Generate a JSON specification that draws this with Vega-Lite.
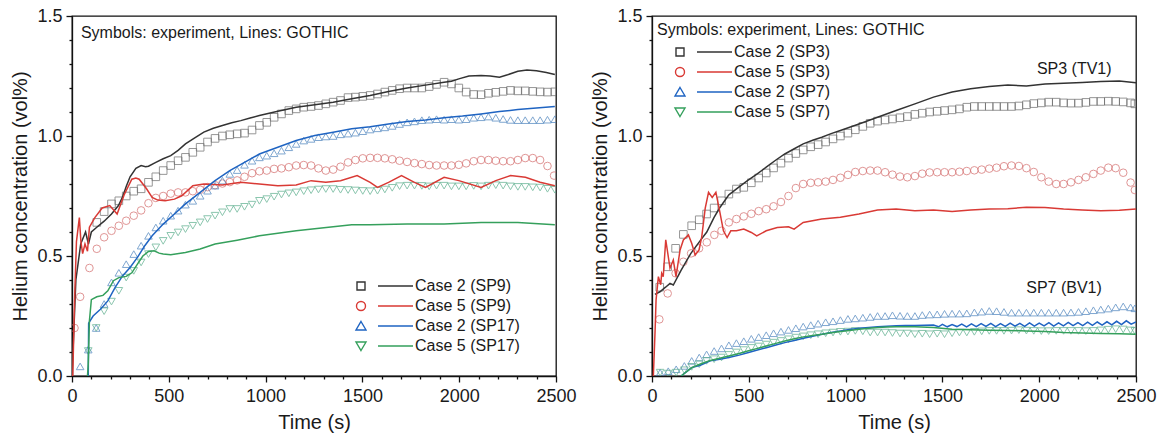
{
"$schema": "https://vega.github.io/schema/vega-lite/v6.json",
"background": "white",
"padding": {"left": 10, "top": 6, "right": 5, "bottom": 5},
"config": {
  "view": {"stroke": "#111", "strokeWidth": 1.3},
  "axis": {"grid": false, "domainColor": "#111", "domainWidth": 1.3, "tickColor": "#111", "tickWidth": 1.3,
    "labelFont": "Liberation Sans", "labelFontSize": 18, "labelColor": "#1a1a1a",
    "titleFont": "Liberation Sans", "titleFontSize": 20, "titleFontWeight": "normal", "titleColor": "#1a1a1a",
    "labelFlush": false, "labelOverlap": false},
  "axisX": {"labelPadding": 5, "titlePadding": 7},
  "axisY": {"labelPadding": 4, "titlePadding": 6},
  "text": {"font": "Liberation Sans", "fontSize": 16, "color": "#1a1a1a"}
},
"data": {"values": [
{"p":"L","k":"e","s":"Case 2 (SP9)","t":128,"c":0.64},{"p":"L","k":"e","s":"Case 2 (SP9)","t":166,"c":0.685},{"p":"L","k":"e","s":"Case 2 (SP9)","t":204,"c":0.717},{"p":"L","k":"e","s":"Case 2 (SP9)","t":242,"c":0.73},{"p":"L","k":"e","s":"Case 2 (SP9)","t":280,"c":0.75},{"p":"L","k":"e","s":"Case 2 (SP9)","t":319,"c":0.77},{"p":"L","k":"e","s":"Case 2 (SP9)","t":357,"c":0.78},{"p":"L","k":"e","s":"Case 2 (SP9)","t":395,"c":0.807},{"p":"L","k":"e","s":"Case 2 (SP9)","t":433,"c":0.83},{"p":"L","k":"e","s":"Case 2 (SP9)","t":471,"c":0.856},{"p":"L","k":"e","s":"Case 2 (SP9)","t":510,"c":0.877},{"p":"L","k":"e","s":"Case 2 (SP9)","t":548,"c":0.897},{"p":"L","k":"e","s":"Case 2 (SP9)","t":586,"c":0.911},{"p":"L","k":"e","s":"Case 2 (SP9)","t":624,"c":0.932},{"p":"L","k":"e","s":"Case 2 (SP9)","t":662,"c":0.953},{"p":"L","k":"e","s":"Case 2 (SP9)","t":700,"c":0.975},{"p":"L","k":"e","s":"Case 2 (SP9)","t":739,"c":0.99},{"p":"L","k":"e","s":"Case 2 (SP9)","t":777,"c":1.0},{"p":"L","k":"e","s":"Case 2 (SP9)","t":815,"c":1.005},{"p":"L","k":"e","s":"Case 2 (SP9)","t":853,"c":1.009},{"p":"L","k":"e","s":"Case 2 (SP9)","t":891,"c":1.012},{"p":"L","k":"e","s":"Case 2 (SP9)","t":930,"c":1.025},{"p":"L","k":"e","s":"Case 2 (SP9)","t":968,"c":1.044},{"p":"L","k":"e","s":"Case 2 (SP9)","t":1006,"c":1.057},{"p":"L","k":"e","s":"Case 2 (SP9)","t":1044,"c":1.078},{"p":"L","k":"e","s":"Case 2 (SP9)","t":1082,"c":1.092},{"p":"L","k":"e","s":"Case 2 (SP9)","t":1120,"c":1.106},{"p":"L","k":"e","s":"Case 2 (SP9)","t":1158,"c":1.113},{"p":"L","k":"e","s":"Case 2 (SP9)","t":1197,"c":1.12},{"p":"L","k":"e","s":"Case 2 (SP9)","t":1235,"c":1.123},{"p":"L","k":"e","s":"Case 2 (SP9)","t":1273,"c":1.127},{"p":"L","k":"e","s":"Case 2 (SP9)","t":1311,"c":1.134},{"p":"L","k":"e","s":"Case 2 (SP9)","t":1349,"c":1.141},{"p":"L","k":"e","s":"Case 2 (SP9)","t":1387,"c":1.148},{"p":"L","k":"e","s":"Case 2 (SP9)","t":1426,"c":1.16},{"p":"L","k":"e","s":"Case 2 (SP9)","t":1464,"c":1.162},{"p":"L","k":"e","s":"Case 2 (SP9)","t":1502,"c":1.165},{"p":"L","k":"e","s":"Case 2 (SP9)","t":1540,"c":1.169},{"p":"L","k":"e","s":"Case 2 (SP9)","t":1578,"c":1.175},{"p":"L","k":"e","s":"Case 2 (SP9)","t":1616,"c":1.183},{"p":"L","k":"e","s":"Case 2 (SP9)","t":1654,"c":1.19},{"p":"L","k":"e","s":"Case 2 (SP9)","t":1692,"c":1.197},{"p":"L","k":"e","s":"Case 2 (SP9)","t":1731,"c":1.2},{"p":"L","k":"e","s":"Case 2 (SP9)","t":1769,"c":1.2},{"p":"L","k":"e","s":"Case 2 (SP9)","t":1807,"c":1.2},{"p":"L","k":"e","s":"Case 2 (SP9)","t":1845,"c":1.206},{"p":"L","k":"e","s":"Case 2 (SP9)","t":1883,"c":1.215},{"p":"L","k":"e","s":"Case 2 (SP9)","t":1922,"c":1.224},{"p":"L","k":"e","s":"Case 2 (SP9)","t":1960,"c":1.217},{"p":"L","k":"e","s":"Case 2 (SP9)","t":1998,"c":1.2},{"p":"L","k":"e","s":"Case 2 (SP9)","t":2036,"c":1.183},{"p":"L","k":"e","s":"Case 2 (SP9)","t":2075,"c":1.173},{"p":"L","k":"e","s":"Case 2 (SP9)","t":2113,"c":1.172},{"p":"L","k":"e","s":"Case 2 (SP9)","t":2151,"c":1.178},{"p":"L","k":"e","s":"Case 2 (SP9)","t":2189,"c":1.182},{"p":"L","k":"e","s":"Case 2 (SP9)","t":2227,"c":1.186},{"p":"L","k":"e","s":"Case 2 (SP9)","t":2265,"c":1.19},{"p":"L","k":"e","s":"Case 2 (SP9)","t":2303,"c":1.188},{"p":"L","k":"e","s":"Case 2 (SP9)","t":2341,"c":1.188},{"p":"L","k":"e","s":"Case 2 (SP9)","t":2380,"c":1.186},{"p":"L","k":"e","s":"Case 2 (SP9)","t":2418,"c":1.184},{"p":"L","k":"e","s":"Case 2 (SP9)","t":2456,"c":1.183},{"p":"L","k":"e","s":"Case 2 (SP9)","t":2494,"c":1.184},
{"p":"L","k":"e","s":"Case 5 (SP9)","t":13,"c":0.2},{"p":"L","k":"e","s":"Case 5 (SP9)","t":42,"c":0.33},{"p":"L","k":"e","s":"Case 5 (SP9)","t":90,"c":0.45},{"p":"L","k":"e","s":"Case 5 (SP9)","t":128,"c":0.53},{"p":"L","k":"e","s":"Case 5 (SP9)","t":166,"c":0.578},{"p":"L","k":"e","s":"Case 5 (SP9)","t":204,"c":0.605},{"p":"L","k":"e","s":"Case 5 (SP9)","t":242,"c":0.626},{"p":"L","k":"e","s":"Case 5 (SP9)","t":280,"c":0.647},{"p":"L","k":"e","s":"Case 5 (SP9)","t":319,"c":0.668},{"p":"L","k":"e","s":"Case 5 (SP9)","t":357,"c":0.69},{"p":"L","k":"e","s":"Case 5 (SP9)","t":395,"c":0.72},{"p":"L","k":"e","s":"Case 5 (SP9)","t":433,"c":0.742},{"p":"L","k":"e","s":"Case 5 (SP9)","t":471,"c":0.75},{"p":"L","k":"e","s":"Case 5 (SP9)","t":510,"c":0.76},{"p":"L","k":"e","s":"Case 5 (SP9)","t":548,"c":0.765},{"p":"L","k":"e","s":"Case 5 (SP9)","t":586,"c":0.765},{"p":"L","k":"e","s":"Case 5 (SP9)","t":624,"c":0.77},{"p":"L","k":"e","s":"Case 5 (SP9)","t":662,"c":0.776},{"p":"L","k":"e","s":"Case 5 (SP9)","t":700,"c":0.787},{"p":"L","k":"e","s":"Case 5 (SP9)","t":739,"c":0.795},{"p":"L","k":"e","s":"Case 5 (SP9)","t":777,"c":0.802},{"p":"L","k":"e","s":"Case 5 (SP9)","t":815,"c":0.808},{"p":"L","k":"e","s":"Case 5 (SP9)","t":853,"c":0.815},{"p":"L","k":"e","s":"Case 5 (SP9)","t":891,"c":0.83},{"p":"L","k":"e","s":"Case 5 (SP9)","t":930,"c":0.845},{"p":"L","k":"e","s":"Case 5 (SP9)","t":968,"c":0.853},{"p":"L","k":"e","s":"Case 5 (SP9)","t":1006,"c":0.856},{"p":"L","k":"e","s":"Case 5 (SP9)","t":1044,"c":0.863},{"p":"L","k":"e","s":"Case 5 (SP9)","t":1082,"c":0.865},{"p":"L","k":"e","s":"Case 5 (SP9)","t":1120,"c":0.87},{"p":"L","k":"e","s":"Case 5 (SP9)","t":1158,"c":0.877},{"p":"L","k":"e","s":"Case 5 (SP9)","t":1197,"c":0.879},{"p":"L","k":"e","s":"Case 5 (SP9)","t":1235,"c":0.877},{"p":"L","k":"e","s":"Case 5 (SP9)","t":1273,"c":0.865},{"p":"L","k":"e","s":"Case 5 (SP9)","t":1311,"c":0.856},{"p":"L","k":"e","s":"Case 5 (SP9)","t":1349,"c":0.86},{"p":"L","k":"e","s":"Case 5 (SP9)","t":1387,"c":0.872},{"p":"L","k":"e","s":"Case 5 (SP9)","t":1426,"c":0.89},{"p":"L","k":"e","s":"Case 5 (SP9)","t":1464,"c":0.9},{"p":"L","k":"e","s":"Case 5 (SP9)","t":1502,"c":0.907},{"p":"L","k":"e","s":"Case 5 (SP9)","t":1540,"c":0.909},{"p":"L","k":"e","s":"Case 5 (SP9)","t":1578,"c":0.909},{"p":"L","k":"e","s":"Case 5 (SP9)","t":1616,"c":0.907},{"p":"L","k":"e","s":"Case 5 (SP9)","t":1654,"c":0.903},{"p":"L","k":"e","s":"Case 5 (SP9)","t":1692,"c":0.897},{"p":"L","k":"e","s":"Case 5 (SP9)","t":1731,"c":0.892},{"p":"L","k":"e","s":"Case 5 (SP9)","t":1769,"c":0.887},{"p":"L","k":"e","s":"Case 5 (SP9)","t":1807,"c":0.883},{"p":"L","k":"e","s":"Case 5 (SP9)","t":1845,"c":0.879},{"p":"L","k":"e","s":"Case 5 (SP9)","t":1883,"c":0.877},{"p":"L","k":"e","s":"Case 5 (SP9)","t":1922,"c":0.877},{"p":"L","k":"e","s":"Case 5 (SP9)","t":1960,"c":0.877},{"p":"L","k":"e","s":"Case 5 (SP9)","t":1998,"c":0.88},{"p":"L","k":"e","s":"Case 5 (SP9)","t":2036,"c":0.886},{"p":"L","k":"e","s":"Case 5 (SP9)","t":2075,"c":0.895},{"p":"L","k":"e","s":"Case 5 (SP9)","t":2113,"c":0.9},{"p":"L","k":"e","s":"Case 5 (SP9)","t":2151,"c":0.9},{"p":"L","k":"e","s":"Case 5 (SP9)","t":2189,"c":0.897},{"p":"L","k":"e","s":"Case 5 (SP9)","t":2227,"c":0.895},{"p":"L","k":"e","s":"Case 5 (SP9)","t":2265,"c":0.895},{"p":"L","k":"e","s":"Case 5 (SP9)","t":2303,"c":0.9},{"p":"L","k":"e","s":"Case 5 (SP9)","t":2341,"c":0.908},{"p":"L","k":"e","s":"Case 5 (SP9)","t":2380,"c":0.908},{"p":"L","k":"e","s":"Case 5 (SP9)","t":2418,"c":0.9},{"p":"L","k":"e","s":"Case 5 (SP9)","t":2456,"c":0.875},{"p":"L","k":"e","s":"Case 5 (SP9)","t":2490,"c":0.835},
{"p":"L","k":"e","s":"Case 2 (SP17)","t":42,"c":0.04},{"p":"L","k":"e","s":"Case 2 (SP17)","t":84,"c":0.11},{"p":"L","k":"e","s":"Case 2 (SP17)","t":125,"c":0.2},{"p":"L","k":"e","s":"Case 2 (SP17)","t":166,"c":0.3},{"p":"L","k":"e","s":"Case 2 (SP17)","t":204,"c":0.39},{"p":"L","k":"e","s":"Case 2 (SP17)","t":242,"c":0.43},{"p":"L","k":"e","s":"Case 2 (SP17)","t":280,"c":0.466},{"p":"L","k":"e","s":"Case 2 (SP17)","t":319,"c":0.508},{"p":"L","k":"e","s":"Case 2 (SP17)","t":357,"c":0.543},{"p":"L","k":"e","s":"Case 2 (SP17)","t":395,"c":0.584},{"p":"L","k":"e","s":"Case 2 (SP17)","t":433,"c":0.619},{"p":"L","k":"e","s":"Case 2 (SP17)","t":471,"c":0.647},{"p":"L","k":"e","s":"Case 2 (SP17)","t":510,"c":0.668},{"p":"L","k":"e","s":"Case 2 (SP17)","t":548,"c":0.689},{"p":"L","k":"e","s":"Case 2 (SP17)","t":586,"c":0.714},{"p":"L","k":"e","s":"Case 2 (SP17)","t":624,"c":0.73},{"p":"L","k":"e","s":"Case 2 (SP17)","t":662,"c":0.751},{"p":"L","k":"e","s":"Case 2 (SP17)","t":700,"c":0.772},{"p":"L","k":"e","s":"Case 2 (SP17)","t":739,"c":0.793},{"p":"L","k":"e","s":"Case 2 (SP17)","t":777,"c":0.814},{"p":"L","k":"e","s":"Case 2 (SP17)","t":815,"c":0.842},{"p":"L","k":"e","s":"Case 2 (SP17)","t":853,"c":0.858},{"p":"L","k":"e","s":"Case 2 (SP17)","t":891,"c":0.88},{"p":"L","k":"e","s":"Case 2 (SP17)","t":930,"c":0.897},{"p":"L","k":"e","s":"Case 2 (SP17)","t":968,"c":0.911},{"p":"L","k":"e","s":"Case 2 (SP17)","t":1006,"c":0.918},{"p":"L","k":"e","s":"Case 2 (SP17)","t":1044,"c":0.928},{"p":"L","k":"e","s":"Case 2 (SP17)","t":1082,"c":0.939},{"p":"L","k":"e","s":"Case 2 (SP17)","t":1120,"c":0.953},{"p":"L","k":"e","s":"Case 2 (SP17)","t":1158,"c":0.967},{"p":"L","k":"e","s":"Case 2 (SP17)","t":1197,"c":0.981},{"p":"L","k":"e","s":"Case 2 (SP17)","t":1235,"c":0.988},{"p":"L","k":"e","s":"Case 2 (SP17)","t":1273,"c":0.995},{"p":"L","k":"e","s":"Case 2 (SP17)","t":1311,"c":0.998},{"p":"L","k":"e","s":"Case 2 (SP17)","t":1349,"c":1.0},{"p":"L","k":"e","s":"Case 2 (SP17)","t":1387,"c":1.007},{"p":"L","k":"e","s":"Case 2 (SP17)","t":1426,"c":1.01},{"p":"L","k":"e","s":"Case 2 (SP17)","t":1464,"c":1.014},{"p":"L","k":"e","s":"Case 2 (SP17)","t":1502,"c":1.02},{"p":"L","k":"e","s":"Case 2 (SP17)","t":1540,"c":1.027},{"p":"L","k":"e","s":"Case 2 (SP17)","t":1578,"c":1.032},{"p":"L","k":"e","s":"Case 2 (SP17)","t":1616,"c":1.036},{"p":"L","k":"e","s":"Case 2 (SP17)","t":1654,"c":1.042},{"p":"L","k":"e","s":"Case 2 (SP17)","t":1692,"c":1.05},{"p":"L","k":"e","s":"Case 2 (SP17)","t":1731,"c":1.057},{"p":"L","k":"e","s":"Case 2 (SP17)","t":1769,"c":1.061},{"p":"L","k":"e","s":"Case 2 (SP17)","t":1807,"c":1.066},{"p":"L","k":"e","s":"Case 2 (SP17)","t":1845,"c":1.068},{"p":"L","k":"e","s":"Case 2 (SP17)","t":1883,"c":1.07},{"p":"L","k":"e","s":"Case 2 (SP17)","t":1922,"c":1.068},{"p":"L","k":"e","s":"Case 2 (SP17)","t":1960,"c":1.07},{"p":"L","k":"e","s":"Case 2 (SP17)","t":1998,"c":1.068},{"p":"L","k":"e","s":"Case 2 (SP17)","t":2036,"c":1.07},{"p":"L","k":"e","s":"Case 2 (SP17)","t":2075,"c":1.076},{"p":"L","k":"e","s":"Case 2 (SP17)","t":2113,"c":1.078},{"p":"L","k":"e","s":"Case 2 (SP17)","t":2151,"c":1.081},{"p":"L","k":"e","s":"Case 2 (SP17)","t":2189,"c":1.076},{"p":"L","k":"e","s":"Case 2 (SP17)","t":2227,"c":1.071},{"p":"L","k":"e","s":"Case 2 (SP17)","t":2265,"c":1.067},{"p":"L","k":"e","s":"Case 2 (SP17)","t":2303,"c":1.066},{"p":"L","k":"e","s":"Case 2 (SP17)","t":2341,"c":1.066},{"p":"L","k":"e","s":"Case 2 (SP17)","t":2380,"c":1.066},{"p":"L","k":"e","s":"Case 2 (SP17)","t":2418,"c":1.066},{"p":"L","k":"e","s":"Case 2 (SP17)","t":2456,"c":1.068},{"p":"L","k":"e","s":"Case 2 (SP17)","t":2494,"c":1.07},
{"p":"L","k":"e","s":"Case 5 (SP17)","t":84,"c":0.104},{"p":"L","k":"e","s":"Case 5 (SP17)","t":125,"c":0.2},{"p":"L","k":"e","s":"Case 5 (SP17)","t":166,"c":0.27},{"p":"L","k":"e","s":"Case 5 (SP17)","t":204,"c":0.31},{"p":"L","k":"e","s":"Case 5 (SP17)","t":242,"c":0.355},{"p":"L","k":"e","s":"Case 5 (SP17)","t":280,"c":0.41},{"p":"L","k":"e","s":"Case 5 (SP17)","t":319,"c":0.438},{"p":"L","k":"e","s":"Case 5 (SP17)","t":357,"c":0.473},{"p":"L","k":"e","s":"Case 5 (SP17)","t":395,"c":0.508},{"p":"L","k":"e","s":"Case 5 (SP17)","t":433,"c":0.536},{"p":"L","k":"e","s":"Case 5 (SP17)","t":471,"c":0.563},{"p":"L","k":"e","s":"Case 5 (SP17)","t":510,"c":0.584},{"p":"L","k":"e","s":"Case 5 (SP17)","t":548,"c":0.598},{"p":"L","k":"e","s":"Case 5 (SP17)","t":586,"c":0.612},{"p":"L","k":"e","s":"Case 5 (SP17)","t":624,"c":0.626},{"p":"L","k":"e","s":"Case 5 (SP17)","t":662,"c":0.64},{"p":"L","k":"e","s":"Case 5 (SP17)","t":700,"c":0.654},{"p":"L","k":"e","s":"Case 5 (SP17)","t":739,"c":0.668},{"p":"L","k":"e","s":"Case 5 (SP17)","t":777,"c":0.682},{"p":"L","k":"e","s":"Case 5 (SP17)","t":815,"c":0.696},{"p":"L","k":"e","s":"Case 5 (SP17)","t":853,"c":0.696},{"p":"L","k":"e","s":"Case 5 (SP17)","t":891,"c":0.705},{"p":"L","k":"e","s":"Case 5 (SP17)","t":930,"c":0.714},{"p":"L","k":"e","s":"Case 5 (SP17)","t":968,"c":0.73},{"p":"L","k":"e","s":"Case 5 (SP17)","t":1006,"c":0.737},{"p":"L","k":"e","s":"Case 5 (SP17)","t":1044,"c":0.747},{"p":"L","k":"e","s":"Case 5 (SP17)","t":1082,"c":0.756},{"p":"L","k":"e","s":"Case 5 (SP17)","t":1120,"c":0.761},{"p":"L","k":"e","s":"Case 5 (SP17)","t":1158,"c":0.765},{"p":"L","k":"e","s":"Case 5 (SP17)","t":1197,"c":0.77},{"p":"L","k":"e","s":"Case 5 (SP17)","t":1235,"c":0.774},{"p":"L","k":"e","s":"Case 5 (SP17)","t":1273,"c":0.777},{"p":"L","k":"e","s":"Case 5 (SP17)","t":1311,"c":0.779},{"p":"L","k":"e","s":"Case 5 (SP17)","t":1349,"c":0.779},{"p":"L","k":"e","s":"Case 5 (SP17)","t":1387,"c":0.776},{"p":"L","k":"e","s":"Case 5 (SP17)","t":1426,"c":0.775},{"p":"L","k":"e","s":"Case 5 (SP17)","t":1464,"c":0.773},{"p":"L","k":"e","s":"Case 5 (SP17)","t":1502,"c":0.771},{"p":"L","k":"e","s":"Case 5 (SP17)","t":1540,"c":0.77},{"p":"L","k":"e","s":"Case 5 (SP17)","t":1578,"c":0.772},{"p":"L","k":"e","s":"Case 5 (SP17)","t":1616,"c":0.777},{"p":"L","k":"e","s":"Case 5 (SP17)","t":1654,"c":0.784},{"p":"L","k":"e","s":"Case 5 (SP17)","t":1692,"c":0.791},{"p":"L","k":"e","s":"Case 5 (SP17)","t":1731,"c":0.793},{"p":"L","k":"e","s":"Case 5 (SP17)","t":1769,"c":0.793},{"p":"L","k":"e","s":"Case 5 (SP17)","t":1807,"c":0.792},{"p":"L","k":"e","s":"Case 5 (SP17)","t":1845,"c":0.79},{"p":"L","k":"e","s":"Case 5 (SP17)","t":1883,"c":0.793},{"p":"L","k":"e","s":"Case 5 (SP17)","t":1922,"c":0.793},{"p":"L","k":"e","s":"Case 5 (SP17)","t":1960,"c":0.79},{"p":"L","k":"e","s":"Case 5 (SP17)","t":1998,"c":0.79},{"p":"L","k":"e","s":"Case 5 (SP17)","t":2036,"c":0.79},{"p":"L","k":"e","s":"Case 5 (SP17)","t":2075,"c":0.792},{"p":"L","k":"e","s":"Case 5 (SP17)","t":2113,"c":0.79},{"p":"L","k":"e","s":"Case 5 (SP17)","t":2151,"c":0.793},{"p":"L","k":"e","s":"Case 5 (SP17)","t":2189,"c":0.795},{"p":"L","k":"e","s":"Case 5 (SP17)","t":2227,"c":0.793},{"p":"L","k":"e","s":"Case 5 (SP17)","t":2265,"c":0.79},{"p":"L","k":"e","s":"Case 5 (SP17)","t":2303,"c":0.788},{"p":"L","k":"e","s":"Case 5 (SP17)","t":2341,"c":0.788},{"p":"L","k":"e","s":"Case 5 (SP17)","t":2380,"c":0.786},{"p":"L","k":"e","s":"Case 5 (SP17)","t":2418,"c":0.785},{"p":"L","k":"e","s":"Case 5 (SP17)","t":2456,"c":0.78},{"p":"L","k":"e","s":"Case 5 (SP17)","t":2494,"c":0.776},
{"p":"L","k":"s","s":"Case 2 (SP9)","t":0,"c":0},{"p":"L","k":"s","s":"Case 2 (SP9)","t":20,"c":0.4},{"p":"L","k":"s","s":"Case 2 (SP9)","t":45,"c":0.55},{"p":"L","k":"s","s":"Case 2 (SP9)","t":70,"c":0.6},{"p":"L","k":"s","s":"Case 2 (SP9)","t":85,"c":0.55},{"p":"L","k":"s","s":"Case 2 (SP9)","t":100,"c":0.6},{"p":"L","k":"s","s":"Case 2 (SP9)","t":128,"c":0.62},{"p":"L","k":"s","s":"Case 2 (SP9)","t":166,"c":0.645},{"p":"L","k":"s","s":"Case 2 (SP9)","t":204,"c":0.675},{"p":"L","k":"s","s":"Case 2 (SP9)","t":240,"c":0.71},{"p":"L","k":"s","s":"Case 2 (SP9)","t":261,"c":0.745},{"p":"L","k":"s","s":"Case 2 (SP9)","t":280,"c":0.79},{"p":"L","k":"s","s":"Case 2 (SP9)","t":300,"c":0.83},{"p":"L","k":"s","s":"Case 2 (SP9)","t":330,"c":0.865},{"p":"L","k":"s","s":"Case 2 (SP9)","t":357,"c":0.877},{"p":"L","k":"s","s":"Case 2 (SP9)","t":380,"c":0.872},{"p":"L","k":"s","s":"Case 2 (SP9)","t":395,"c":0.874},{"p":"L","k":"s","s":"Case 2 (SP9)","t":433,"c":0.89},{"p":"L","k":"s","s":"Case 2 (SP9)","t":471,"c":0.905},{"p":"L","k":"s","s":"Case 2 (SP9)","t":510,"c":0.918},{"p":"L","k":"s","s":"Case 2 (SP9)","t":548,"c":0.94},{"p":"L","k":"s","s":"Case 2 (SP9)","t":586,"c":0.967},{"p":"L","k":"s","s":"Case 2 (SP9)","t":630,"c":0.99},{"p":"L","k":"s","s":"Case 2 (SP9)","t":681,"c":1.016},{"p":"L","k":"s","s":"Case 2 (SP9)","t":730,"c":1.032},{"p":"L","k":"s","s":"Case 2 (SP9)","t":777,"c":1.044},{"p":"L","k":"s","s":"Case 2 (SP9)","t":825,"c":1.055},{"p":"L","k":"s","s":"Case 2 (SP9)","t":872,"c":1.064},{"p":"L","k":"s","s":"Case 2 (SP9)","t":920,"c":1.075},{"p":"L","k":"s","s":"Case 2 (SP9)","t":968,"c":1.085},{"p":"L","k":"s","s":"Case 2 (SP9)","t":1063,"c":1.103},{"p":"L","k":"s","s":"Case 2 (SP9)","t":1158,"c":1.12},{"p":"L","k":"s","s":"Case 2 (SP9)","t":1254,"c":1.13},{"p":"L","k":"s","s":"Case 2 (SP9)","t":1349,"c":1.141},{"p":"L","k":"s","s":"Case 2 (SP9)","t":1445,"c":1.155},{"p":"L","k":"s","s":"Case 2 (SP9)","t":1540,"c":1.169},{"p":"L","k":"s","s":"Case 2 (SP9)","t":1635,"c":1.185},{"p":"L","k":"s","s":"Case 2 (SP9)","t":1731,"c":1.2},{"p":"L","k":"s","s":"Case 2 (SP9)","t":1826,"c":1.212},{"p":"L","k":"s","s":"Case 2 (SP9)","t":1922,"c":1.224},{"p":"L","k":"s","s":"Case 2 (SP9)","t":1960,"c":1.228},{"p":"L","k":"s","s":"Case 2 (SP9)","t":1998,"c":1.238},{"p":"L","k":"s","s":"Case 2 (SP9)","t":2050,"c":1.25},{"p":"L","k":"s","s":"Case 2 (SP9)","t":2113,"c":1.252},{"p":"L","k":"s","s":"Case 2 (SP9)","t":2160,"c":1.25},{"p":"L","k":"s","s":"Case 2 (SP9)","t":2208,"c":1.245},{"p":"L","k":"s","s":"Case 2 (SP9)","t":2250,"c":1.255},{"p":"L","k":"s","s":"Case 2 (SP9)","t":2303,"c":1.27},{"p":"L","k":"s","s":"Case 2 (SP9)","t":2350,"c":1.275},{"p":"L","k":"s","s":"Case 2 (SP9)","t":2399,"c":1.272},{"p":"L","k":"s","s":"Case 2 (SP9)","t":2450,"c":1.265},{"p":"L","k":"s","s":"Case 2 (SP9)","t":2494,"c":1.256},
{"p":"L","k":"s","s":"Case 5 (SP9)","t":4,"c":0},{"p":"L","k":"s","s":"Case 5 (SP9)","t":13,"c":0.31},{"p":"L","k":"s","s":"Case 5 (SP9)","t":23,"c":0.56},{"p":"L","k":"s","s":"Case 5 (SP9)","t":32,"c":0.62},{"p":"L","k":"s","s":"Case 5 (SP9)","t":38,"c":0.66},{"p":"L","k":"s","s":"Case 5 (SP9)","t":46,"c":0.56},{"p":"L","k":"s","s":"Case 5 (SP9)","t":55,"c":0.51},{"p":"L","k":"s","s":"Case 5 (SP9)","t":67,"c":0.55},{"p":"L","k":"s","s":"Case 5 (SP9)","t":80,"c":0.52},{"p":"L","k":"s","s":"Case 5 (SP9)","t":90,"c":0.62},{"p":"L","k":"s","s":"Case 5 (SP9)","t":118,"c":0.66},{"p":"L","k":"s","s":"Case 5 (SP9)","t":156,"c":0.7},{"p":"L","k":"s","s":"Case 5 (SP9)","t":195,"c":0.71},{"p":"L","k":"s","s":"Case 5 (SP9)","t":233,"c":0.675},{"p":"L","k":"s","s":"Case 5 (SP9)","t":271,"c":0.758},{"p":"L","k":"s","s":"Case 5 (SP9)","t":309,"c":0.82},{"p":"L","k":"s","s":"Case 5 (SP9)","t":330,"c":0.825},{"p":"L","k":"s","s":"Case 5 (SP9)","t":347,"c":0.82},{"p":"L","k":"s","s":"Case 5 (SP9)","t":385,"c":0.78},{"p":"L","k":"s","s":"Case 5 (SP9)","t":414,"c":0.744},{"p":"L","k":"s","s":"Case 5 (SP9)","t":443,"c":0.733},{"p":"L","k":"s","s":"Case 5 (SP9)","t":481,"c":0.73},{"p":"L","k":"s","s":"Case 5 (SP9)","t":529,"c":0.737},{"p":"L","k":"s","s":"Case 5 (SP9)","t":567,"c":0.751},{"p":"L","k":"s","s":"Case 5 (SP9)","t":624,"c":0.793},{"p":"L","k":"s","s":"Case 5 (SP9)","t":681,"c":0.8},{"p":"L","k":"s","s":"Case 5 (SP9)","t":777,"c":0.796},{"p":"L","k":"s","s":"Case 5 (SP9)","t":872,"c":0.807},{"p":"L","k":"s","s":"Case 5 (SP9)","t":968,"c":0.8},{"p":"L","k":"s","s":"Case 5 (SP9)","t":1063,"c":0.793},{"p":"L","k":"s","s":"Case 5 (SP9)","t":1158,"c":0.796},{"p":"L","k":"s","s":"Case 5 (SP9)","t":1235,"c":0.814},{"p":"L","k":"s","s":"Case 5 (SP9)","t":1311,"c":0.807},{"p":"L","k":"s","s":"Case 5 (SP9)","t":1387,"c":0.814},{"p":"L","k":"s","s":"Case 5 (SP9)","t":1473,"c":0.835},{"p":"L","k":"s","s":"Case 5 (SP9)","t":1540,"c":0.807},{"p":"L","k":"s","s":"Case 5 (SP9)","t":1578,"c":0.786},{"p":"L","k":"s","s":"Case 5 (SP9)","t":1635,"c":0.807},{"p":"L","k":"s","s":"Case 5 (SP9)","t":1702,"c":0.835},{"p":"L","k":"s","s":"Case 5 (SP9)","t":1769,"c":0.807},{"p":"L","k":"s","s":"Case 5 (SP9)","t":1826,"c":0.786},{"p":"L","k":"s","s":"Case 5 (SP9)","t":1922,"c":0.828},{"p":"L","k":"s","s":"Case 5 (SP9)","t":1998,"c":0.814},{"p":"L","k":"s","s":"Case 5 (SP9)","t":2113,"c":0.786},{"p":"L","k":"s","s":"Case 5 (SP9)","t":2189,"c":0.814},{"p":"L","k":"s","s":"Case 5 (SP9)","t":2265,"c":0.835},{"p":"L","k":"s","s":"Case 5 (SP9)","t":2342,"c":0.828},{"p":"L","k":"s","s":"Case 5 (SP9)","t":2418,"c":0.807},{"p":"L","k":"s","s":"Case 5 (SP9)","t":2494,"c":0.793},
{"p":"L","k":"s","s":"Case 2 (SP17)","t":84,"c":0},{"p":"L","k":"s","s":"Case 2 (SP17)","t":86,"c":0.22},{"p":"L","k":"s","s":"Case 2 (SP17)","t":109,"c":0.25},{"p":"L","k":"s","s":"Case 2 (SP17)","t":147,"c":0.278},{"p":"L","k":"s","s":"Case 2 (SP17)","t":185,"c":0.313},{"p":"L","k":"s","s":"Case 2 (SP17)","t":223,"c":0.369},{"p":"L","k":"s","s":"Case 2 (SP17)","t":261,"c":0.417},{"p":"L","k":"s","s":"Case 2 (SP17)","t":300,"c":0.452},{"p":"L","k":"s","s":"Case 2 (SP17)","t":338,"c":0.494},{"p":"L","k":"s","s":"Case 2 (SP17)","t":376,"c":0.543},{"p":"L","k":"s","s":"Case 2 (SP17)","t":414,"c":0.584},{"p":"L","k":"s","s":"Case 2 (SP17)","t":471,"c":0.633},{"p":"L","k":"s","s":"Case 2 (SP17)","t":529,"c":0.675},{"p":"L","k":"s","s":"Case 2 (SP17)","t":586,"c":0.717},{"p":"L","k":"s","s":"Case 2 (SP17)","t":662,"c":0.765},{"p":"L","k":"s","s":"Case 2 (SP17)","t":739,"c":0.814},{"p":"L","k":"s","s":"Case 2 (SP17)","t":815,"c":0.856},{"p":"L","k":"s","s":"Case 2 (SP17)","t":891,"c":0.89},{"p":"L","k":"s","s":"Case 2 (SP17)","t":968,"c":0.925},{"p":"L","k":"s","s":"Case 2 (SP17)","t":1063,"c":0.953},{"p":"L","k":"s","s":"Case 2 (SP17)","t":1158,"c":0.981},{"p":"L","k":"s","s":"Case 2 (SP17)","t":1254,"c":1.002},{"p":"L","k":"s","s":"Case 2 (SP17)","t":1349,"c":1.016},{"p":"L","k":"s","s":"Case 2 (SP17)","t":1445,"c":1.03},{"p":"L","k":"s","s":"Case 2 (SP17)","t":1540,"c":1.039},{"p":"L","k":"s","s":"Case 2 (SP17)","t":1635,"c":1.05},{"p":"L","k":"s","s":"Case 2 (SP17)","t":1731,"c":1.06},{"p":"L","k":"s","s":"Case 2 (SP17)","t":1826,"c":1.067},{"p":"L","k":"s","s":"Case 2 (SP17)","t":1922,"c":1.076},{"p":"L","k":"s","s":"Case 2 (SP17)","t":2017,"c":1.083},{"p":"L","k":"s","s":"Case 2 (SP17)","t":2113,"c":1.092},{"p":"L","k":"s","s":"Case 2 (SP17)","t":2208,"c":1.102},{"p":"L","k":"s","s":"Case 2 (SP17)","t":2303,"c":1.11},{"p":"L","k":"s","s":"Case 2 (SP17)","t":2399,"c":1.117},{"p":"L","k":"s","s":"Case 2 (SP17)","t":2494,"c":1.123},
{"p":"L","k":"s","s":"Case 5 (SP17)","t":80,"c":0},{"p":"L","k":"s","s":"Case 5 (SP17)","t":84,"c":0.05},{"p":"L","k":"s","s":"Case 5 (SP17)","t":90,"c":0.23},{"p":"L","k":"s","s":"Case 5 (SP17)","t":100,"c":0.318},{"p":"L","k":"s","s":"Case 5 (SP17)","t":128,"c":0.33},{"p":"L","k":"s","s":"Case 5 (SP17)","t":160,"c":0.336},{"p":"L","k":"s","s":"Case 5 (SP17)","t":185,"c":0.355},{"p":"L","k":"s","s":"Case 5 (SP17)","t":214,"c":0.397},{"p":"L","k":"s","s":"Case 5 (SP17)","t":242,"c":0.41},{"p":"L","k":"s","s":"Case 5 (SP17)","t":280,"c":0.415},{"p":"L","k":"s","s":"Case 5 (SP17)","t":309,"c":0.43},{"p":"L","k":"s","s":"Case 5 (SP17)","t":338,"c":0.466},{"p":"L","k":"s","s":"Case 5 (SP17)","t":366,"c":0.5},{"p":"L","k":"s","s":"Case 5 (SP17)","t":395,"c":0.519},{"p":"L","k":"s","s":"Case 5 (SP17)","t":424,"c":0.522},{"p":"L","k":"s","s":"Case 5 (SP17)","t":450,"c":0.512},{"p":"L","k":"s","s":"Case 5 (SP17)","t":471,"c":0.508},{"p":"L","k":"s","s":"Case 5 (SP17)","t":510,"c":0.505},{"p":"L","k":"s","s":"Case 5 (SP17)","t":586,"c":0.515},{"p":"L","k":"s","s":"Case 5 (SP17)","t":662,"c":0.529},{"p":"L","k":"s","s":"Case 5 (SP17)","t":739,"c":0.55},{"p":"L","k":"s","s":"Case 5 (SP17)","t":853,"c":0.566},{"p":"L","k":"s","s":"Case 5 (SP17)","t":968,"c":0.584},{"p":"L","k":"s","s":"Case 5 (SP17)","t":1158,"c":0.605},{"p":"L","k":"s","s":"Case 5 (SP17)","t":1349,"c":0.622},{"p":"L","k":"s","s":"Case 5 (SP17)","t":1445,"c":0.63},{"p":"L","k":"s","s":"Case 5 (SP17)","t":1540,"c":0.63},{"p":"L","k":"s","s":"Case 5 (SP17)","t":1731,"c":0.633},{"p":"L","k":"s","s":"Case 5 (SP17)","t":1922,"c":0.633},{"p":"L","k":"s","s":"Case 5 (SP17)","t":2113,"c":0.64},{"p":"L","k":"s","s":"Case 5 (SP17)","t":2303,"c":0.64},{"p":"L","k":"s","s":"Case 5 (SP17)","t":2494,"c":0.63},
{"p":"R","k":"e","s":"Case 2 (SP3)","t":40,"c":0.37},{"p":"R","k":"e","s":"Case 2 (SP3)","t":81,"c":0.455},{"p":"R","k":"e","s":"Case 2 (SP3)","t":122,"c":0.532},{"p":"R","k":"e","s":"Case 2 (SP3)","t":162,"c":0.59},{"p":"R","k":"e","s":"Case 2 (SP3)","t":205,"c":0.626},{"p":"R","k":"e","s":"Case 2 (SP3)","t":244,"c":0.651},{"p":"R","k":"e","s":"Case 2 (SP3)","t":282,"c":0.675},{"p":"R","k":"e","s":"Case 2 (SP3)","t":321,"c":0.7},{"p":"R","k":"e","s":"Case 2 (SP3)","t":359,"c":0.73},{"p":"R","k":"e","s":"Case 2 (SP3)","t":397,"c":0.758},{"p":"R","k":"e","s":"Case 2 (SP3)","t":436,"c":0.779},{"p":"R","k":"e","s":"Case 2 (SP3)","t":474,"c":0.786},{"p":"R","k":"e","s":"Case 2 (SP3)","t":513,"c":0.805},{"p":"R","k":"e","s":"Case 2 (SP3)","t":551,"c":0.825},{"p":"R","k":"e","s":"Case 2 (SP3)","t":590,"c":0.846},{"p":"R","k":"e","s":"Case 2 (SP3)","t":628,"c":0.867},{"p":"R","k":"e","s":"Case 2 (SP3)","t":666,"c":0.887},{"p":"R","k":"e","s":"Case 2 (SP3)","t":705,"c":0.908},{"p":"R","k":"e","s":"Case 2 (SP3)","t":743,"c":0.927},{"p":"R","k":"e","s":"Case 2 (SP3)","t":781,"c":0.942},{"p":"R","k":"e","s":"Case 2 (SP3)","t":820,"c":0.955},{"p":"R","k":"e","s":"Case 2 (SP3)","t":858,"c":0.964},{"p":"R","k":"e","s":"Case 2 (SP3)","t":897,"c":0.975},{"p":"R","k":"e","s":"Case 2 (SP3)","t":935,"c":0.988},{"p":"R","k":"e","s":"Case 2 (SP3)","t":973,"c":1.0},{"p":"R","k":"e","s":"Case 2 (SP3)","t":1012,"c":1.012},{"p":"R","k":"e","s":"Case 2 (SP3)","t":1050,"c":1.026},{"p":"R","k":"e","s":"Case 2 (SP3)","t":1089,"c":1.04},{"p":"R","k":"e","s":"Case 2 (SP3)","t":1127,"c":1.053},{"p":"R","k":"e","s":"Case 2 (SP3)","t":1165,"c":1.062},{"p":"R","k":"e","s":"Case 2 (SP3)","t":1204,"c":1.067},{"p":"R","k":"e","s":"Case 2 (SP3)","t":1242,"c":1.071},{"p":"R","k":"e","s":"Case 2 (SP3)","t":1281,"c":1.076},{"p":"R","k":"e","s":"Case 2 (SP3)","t":1319,"c":1.081},{"p":"R","k":"e","s":"Case 2 (SP3)","t":1358,"c":1.09},{"p":"R","k":"e","s":"Case 2 (SP3)","t":1396,"c":1.095},{"p":"R","k":"e","s":"Case 2 (SP3)","t":1434,"c":1.1},{"p":"R","k":"e","s":"Case 2 (SP3)","t":1473,"c":1.103},{"p":"R","k":"e","s":"Case 2 (SP3)","t":1511,"c":1.106},{"p":"R","k":"e","s":"Case 2 (SP3)","t":1550,"c":1.109},{"p":"R","k":"e","s":"Case 2 (SP3)","t":1588,"c":1.113},{"p":"R","k":"e","s":"Case 2 (SP3)","t":1626,"c":1.12},{"p":"R","k":"e","s":"Case 2 (SP3)","t":1665,"c":1.123},{"p":"R","k":"e","s":"Case 2 (SP3)","t":1703,"c":1.123},{"p":"R","k":"e","s":"Case 2 (SP3)","t":1742,"c":1.123},{"p":"R","k":"e","s":"Case 2 (SP3)","t":1780,"c":1.123},{"p":"R","k":"e","s":"Case 2 (SP3)","t":1818,"c":1.123},{"p":"R","k":"e","s":"Case 2 (SP3)","t":1857,"c":1.123},{"p":"R","k":"e","s":"Case 2 (SP3)","t":1895,"c":1.125},{"p":"R","k":"e","s":"Case 2 (SP3)","t":1934,"c":1.13},{"p":"R","k":"e","s":"Case 2 (SP3)","t":1972,"c":1.135},{"p":"R","k":"e","s":"Case 2 (SP3)","t":2011,"c":1.138},{"p":"R","k":"e","s":"Case 2 (SP3)","t":2049,"c":1.141},{"p":"R","k":"e","s":"Case 2 (SP3)","t":2088,"c":1.141},{"p":"R","k":"e","s":"Case 2 (SP3)","t":2126,"c":1.138},{"p":"R","k":"e","s":"Case 2 (SP3)","t":2164,"c":1.137},{"p":"R","k":"e","s":"Case 2 (SP3)","t":2203,"c":1.137},{"p":"R","k":"e","s":"Case 2 (SP3)","t":2241,"c":1.14},{"p":"R","k":"e","s":"Case 2 (SP3)","t":2280,"c":1.144},{"p":"R","k":"e","s":"Case 2 (SP3)","t":2318,"c":1.144},{"p":"R","k":"e","s":"Case 2 (SP3)","t":2357,"c":1.145},{"p":"R","k":"e","s":"Case 2 (SP3)","t":2395,"c":1.144},{"p":"R","k":"e","s":"Case 2 (SP3)","t":2434,"c":1.142},{"p":"R","k":"e","s":"Case 2 (SP3)","t":2472,"c":1.138},{"p":"R","k":"e","s":"Case 2 (SP3)","t":2494,"c":1.134},
{"p":"R","k":"e","s":"Case 5 (SP3)","t":38,"c":0.236},{"p":"R","k":"e","s":"Case 5 (SP3)","t":81,"c":0.344},{"p":"R","k":"e","s":"Case 5 (SP3)","t":122,"c":0.428},{"p":"R","k":"e","s":"Case 5 (SP3)","t":162,"c":0.476},{"p":"R","k":"e","s":"Case 5 (SP3)","t":202,"c":0.511},{"p":"R","k":"e","s":"Case 5 (SP3)","t":243,"c":0.532},{"p":"R","k":"e","s":"Case 5 (SP3)","t":283,"c":0.557},{"p":"R","k":"e","s":"Case 5 (SP3)","t":322,"c":0.588},{"p":"R","k":"e","s":"Case 5 (SP3)","t":359,"c":0.605},{"p":"R","k":"e","s":"Case 5 (SP3)","t":397,"c":0.64},{"p":"R","k":"e","s":"Case 5 (SP3)","t":436,"c":0.654},{"p":"R","k":"e","s":"Case 5 (SP3)","t":474,"c":0.665},{"p":"R","k":"e","s":"Case 5 (SP3)","t":513,"c":0.676},{"p":"R","k":"e","s":"Case 5 (SP3)","t":551,"c":0.687},{"p":"R","k":"e","s":"Case 5 (SP3)","t":590,"c":0.695},{"p":"R","k":"e","s":"Case 5 (SP3)","t":628,"c":0.707},{"p":"R","k":"e","s":"Case 5 (SP3)","t":666,"c":0.725},{"p":"R","k":"e","s":"Case 5 (SP3)","t":705,"c":0.75},{"p":"R","k":"e","s":"Case 5 (SP3)","t":743,"c":0.783},{"p":"R","k":"e","s":"Case 5 (SP3)","t":781,"c":0.8},{"p":"R","k":"e","s":"Case 5 (SP3)","t":820,"c":0.805},{"p":"R","k":"e","s":"Case 5 (SP3)","t":858,"c":0.807},{"p":"R","k":"e","s":"Case 5 (SP3)","t":897,"c":0.81},{"p":"R","k":"e","s":"Case 5 (SP3)","t":935,"c":0.817},{"p":"R","k":"e","s":"Case 5 (SP3)","t":973,"c":0.826},{"p":"R","k":"e","s":"Case 5 (SP3)","t":1012,"c":0.838},{"p":"R","k":"e","s":"Case 5 (SP3)","t":1050,"c":0.85},{"p":"R","k":"e","s":"Case 5 (SP3)","t":1089,"c":0.854},{"p":"R","k":"e","s":"Case 5 (SP3)","t":1127,"c":0.856},{"p":"R","k":"e","s":"Case 5 (SP3)","t":1165,"c":0.856},{"p":"R","k":"e","s":"Case 5 (SP3)","t":1204,"c":0.849},{"p":"R","k":"e","s":"Case 5 (SP3)","t":1242,"c":0.839},{"p":"R","k":"e","s":"Case 5 (SP3)","t":1281,"c":0.831},{"p":"R","k":"e","s":"Case 5 (SP3)","t":1319,"c":0.828},{"p":"R","k":"e","s":"Case 5 (SP3)","t":1358,"c":0.833},{"p":"R","k":"e","s":"Case 5 (SP3)","t":1396,"c":0.843},{"p":"R","k":"e","s":"Case 5 (SP3)","t":1434,"c":0.848},{"p":"R","k":"e","s":"Case 5 (SP3)","t":1473,"c":0.849},{"p":"R","k":"e","s":"Case 5 (SP3)","t":1511,"c":0.849},{"p":"R","k":"e","s":"Case 5 (SP3)","t":1550,"c":0.849},{"p":"R","k":"e","s":"Case 5 (SP3)","t":1588,"c":0.851},{"p":"R","k":"e","s":"Case 5 (SP3)","t":1626,"c":0.854},{"p":"R","k":"e","s":"Case 5 (SP3)","t":1665,"c":0.857},{"p":"R","k":"e","s":"Case 5 (SP3)","t":1703,"c":0.86},{"p":"R","k":"e","s":"Case 5 (SP3)","t":1742,"c":0.864},{"p":"R","k":"e","s":"Case 5 (SP3)","t":1780,"c":0.868},{"p":"R","k":"e","s":"Case 5 (SP3)","t":1818,"c":0.874},{"p":"R","k":"e","s":"Case 5 (SP3)","t":1857,"c":0.877},{"p":"R","k":"e","s":"Case 5 (SP3)","t":1895,"c":0.875},{"p":"R","k":"e","s":"Case 5 (SP3)","t":1934,"c":0.866},{"p":"R","k":"e","s":"Case 5 (SP3)","t":1972,"c":0.85},{"p":"R","k":"e","s":"Case 5 (SP3)","t":2011,"c":0.828},{"p":"R","k":"e","s":"Case 5 (SP3)","t":2049,"c":0.81},{"p":"R","k":"e","s":"Case 5 (SP3)","t":2088,"c":0.8},{"p":"R","k":"e","s":"Case 5 (SP3)","t":2126,"c":0.8},{"p":"R","k":"e","s":"Case 5 (SP3)","t":2164,"c":0.807},{"p":"R","k":"e","s":"Case 5 (SP3)","t":2203,"c":0.817},{"p":"R","k":"e","s":"Case 5 (SP3)","t":2241,"c":0.828},{"p":"R","k":"e","s":"Case 5 (SP3)","t":2280,"c":0.842},{"p":"R","k":"e","s":"Case 5 (SP3)","t":2318,"c":0.856},{"p":"R","k":"e","s":"Case 5 (SP3)","t":2357,"c":0.868},{"p":"R","k":"e","s":"Case 5 (SP3)","t":2395,"c":0.866},{"p":"R","k":"e","s":"Case 5 (SP3)","t":2434,"c":0.847},{"p":"R","k":"e","s":"Case 5 (SP3)","t":2472,"c":0.806},{"p":"R","k":"e","s":"Case 5 (SP3)","t":2494,"c":0.775},
{"p":"R","k":"e","s":"Case 2 (SP7)","t":42,"c":0.014},{"p":"R","k":"e","s":"Case 2 (SP7)","t":84,"c":0.02},{"p":"R","k":"e","s":"Case 2 (SP7)","t":125,"c":0.028},{"p":"R","k":"e","s":"Case 2 (SP7)","t":167,"c":0.042},{"p":"R","k":"e","s":"Case 2 (SP7)","t":205,"c":0.063},{"p":"R","k":"e","s":"Case 2 (SP7)","t":244,"c":0.077},{"p":"R","k":"e","s":"Case 2 (SP7)","t":282,"c":0.09},{"p":"R","k":"e","s":"Case 2 (SP7)","t":321,"c":0.104},{"p":"R","k":"e","s":"Case 2 (SP7)","t":359,"c":0.115},{"p":"R","k":"e","s":"Case 2 (SP7)","t":397,"c":0.128},{"p":"R","k":"e","s":"Case 2 (SP7)","t":436,"c":0.137},{"p":"R","k":"e","s":"Case 2 (SP7)","t":474,"c":0.145},{"p":"R","k":"e","s":"Case 2 (SP7)","t":513,"c":0.155},{"p":"R","k":"e","s":"Case 2 (SP7)","t":551,"c":0.162},{"p":"R","k":"e","s":"Case 2 (SP7)","t":590,"c":0.17},{"p":"R","k":"e","s":"Case 2 (SP7)","t":628,"c":0.178},{"p":"R","k":"e","s":"Case 2 (SP7)","t":666,"c":0.185},{"p":"R","k":"e","s":"Case 2 (SP7)","t":705,"c":0.192},{"p":"R","k":"e","s":"Case 2 (SP7)","t":743,"c":0.199},{"p":"R","k":"e","s":"Case 2 (SP7)","t":781,"c":0.206},{"p":"R","k":"e","s":"Case 2 (SP7)","t":820,"c":0.212},{"p":"R","k":"e","s":"Case 2 (SP7)","t":858,"c":0.218},{"p":"R","k":"e","s":"Case 2 (SP7)","t":897,"c":0.224},{"p":"R","k":"e","s":"Case 2 (SP7)","t":935,"c":0.228},{"p":"R","k":"e","s":"Case 2 (SP7)","t":973,"c":0.233},{"p":"R","k":"e","s":"Case 2 (SP7)","t":1012,"c":0.238},{"p":"R","k":"e","s":"Case 2 (SP7)","t":1050,"c":0.24},{"p":"R","k":"e","s":"Case 2 (SP7)","t":1089,"c":0.243},{"p":"R","k":"e","s":"Case 2 (SP7)","t":1127,"c":0.246},{"p":"R","k":"e","s":"Case 2 (SP7)","t":1165,"c":0.25},{"p":"R","k":"e","s":"Case 2 (SP7)","t":1204,"c":0.25},{"p":"R","k":"e","s":"Case 2 (SP7)","t":1242,"c":0.253},{"p":"R","k":"e","s":"Case 2 (SP7)","t":1281,"c":0.251},{"p":"R","k":"e","s":"Case 2 (SP7)","t":1319,"c":0.25},{"p":"R","k":"e","s":"Case 2 (SP7)","t":1358,"c":0.25},{"p":"R","k":"e","s":"Case 2 (SP7)","t":1396,"c":0.254},{"p":"R","k":"e","s":"Case 2 (SP7)","t":1434,"c":0.256},{"p":"R","k":"e","s":"Case 2 (SP7)","t":1473,"c":0.257},{"p":"R","k":"e","s":"Case 2 (SP7)","t":1511,"c":0.259},{"p":"R","k":"e","s":"Case 2 (SP7)","t":1550,"c":0.26},{"p":"R","k":"e","s":"Case 2 (SP7)","t":1588,"c":0.26},{"p":"R","k":"e","s":"Case 2 (SP7)","t":1626,"c":0.261},{"p":"R","k":"e","s":"Case 2 (SP7)","t":1665,"c":0.265},{"p":"R","k":"e","s":"Case 2 (SP7)","t":1703,"c":0.268},{"p":"R","k":"e","s":"Case 2 (SP7)","t":1742,"c":0.271},{"p":"R","k":"e","s":"Case 2 (SP7)","t":1780,"c":0.27},{"p":"R","k":"e","s":"Case 2 (SP7)","t":1818,"c":0.267},{"p":"R","k":"e","s":"Case 2 (SP7)","t":1857,"c":0.264},{"p":"R","k":"e","s":"Case 2 (SP7)","t":1895,"c":0.264},{"p":"R","k":"e","s":"Case 2 (SP7)","t":1934,"c":0.264},{"p":"R","k":"e","s":"Case 2 (SP7)","t":1972,"c":0.264},{"p":"R","k":"e","s":"Case 2 (SP7)","t":2011,"c":0.264},{"p":"R","k":"e","s":"Case 2 (SP7)","t":2049,"c":0.264},{"p":"R","k":"e","s":"Case 2 (SP7)","t":2088,"c":0.264},{"p":"R","k":"e","s":"Case 2 (SP7)","t":2126,"c":0.264},{"p":"R","k":"e","s":"Case 2 (SP7)","t":2164,"c":0.265},{"p":"R","k":"e","s":"Case 2 (SP7)","t":2203,"c":0.267},{"p":"R","k":"e","s":"Case 2 (SP7)","t":2241,"c":0.27},{"p":"R","k":"e","s":"Case 2 (SP7)","t":2280,"c":0.274},{"p":"R","k":"e","s":"Case 2 (SP7)","t":2318,"c":0.277},{"p":"R","k":"e","s":"Case 2 (SP7)","t":2357,"c":0.281},{"p":"R","k":"e","s":"Case 2 (SP7)","t":2395,"c":0.286},{"p":"R","k":"e","s":"Case 2 (SP7)","t":2434,"c":0.29},{"p":"R","k":"e","s":"Case 2 (SP7)","t":2472,"c":0.286},{"p":"R","k":"e","s":"Case 2 (SP7)","t":2494,"c":0.282},
{"p":"R","k":"e","s":"Case 5 (SP7)","t":42,"c":0.014},{"p":"R","k":"e","s":"Case 5 (SP7)","t":84,"c":0.01},{"p":"R","k":"e","s":"Case 5 (SP7)","t":125,"c":0.014},{"p":"R","k":"e","s":"Case 5 (SP7)","t":167,"c":0.024},{"p":"R","k":"e","s":"Case 5 (SP7)","t":205,"c":0.038},{"p":"R","k":"e","s":"Case 5 (SP7)","t":244,"c":0.049},{"p":"R","k":"e","s":"Case 5 (SP7)","t":282,"c":0.063},{"p":"R","k":"e","s":"Case 5 (SP7)","t":321,"c":0.07},{"p":"R","k":"e","s":"Case 5 (SP7)","t":359,"c":0.077},{"p":"R","k":"e","s":"Case 5 (SP7)","t":397,"c":0.088},{"p":"R","k":"e","s":"Case 5 (SP7)","t":436,"c":0.098},{"p":"R","k":"e","s":"Case 5 (SP7)","t":474,"c":0.108},{"p":"R","k":"e","s":"Case 5 (SP7)","t":513,"c":0.117},{"p":"R","k":"e","s":"Case 5 (SP7)","t":551,"c":0.123},{"p":"R","k":"e","s":"Case 5 (SP7)","t":590,"c":0.131},{"p":"R","k":"e","s":"Case 5 (SP7)","t":628,"c":0.139},{"p":"R","k":"e","s":"Case 5 (SP7)","t":666,"c":0.146},{"p":"R","k":"e","s":"Case 5 (SP7)","t":705,"c":0.153},{"p":"R","k":"e","s":"Case 5 (SP7)","t":743,"c":0.16},{"p":"R","k":"e","s":"Case 5 (SP7)","t":781,"c":0.165},{"p":"R","k":"e","s":"Case 5 (SP7)","t":820,"c":0.17},{"p":"R","k":"e","s":"Case 5 (SP7)","t":858,"c":0.174},{"p":"R","k":"e","s":"Case 5 (SP7)","t":897,"c":0.178},{"p":"R","k":"e","s":"Case 5 (SP7)","t":935,"c":0.181},{"p":"R","k":"e","s":"Case 5 (SP7)","t":973,"c":0.184},{"p":"R","k":"e","s":"Case 5 (SP7)","t":1012,"c":0.185},{"p":"R","k":"e","s":"Case 5 (SP7)","t":1050,"c":0.188},{"p":"R","k":"e","s":"Case 5 (SP7)","t":1089,"c":0.186},{"p":"R","k":"e","s":"Case 5 (SP7)","t":1127,"c":0.181},{"p":"R","k":"e","s":"Case 5 (SP7)","t":1165,"c":0.181},{"p":"R","k":"e","s":"Case 5 (SP7)","t":1204,"c":0.181},{"p":"R","k":"e","s":"Case 5 (SP7)","t":1242,"c":0.179},{"p":"R","k":"e","s":"Case 5 (SP7)","t":1281,"c":0.177},{"p":"R","k":"e","s":"Case 5 (SP7)","t":1319,"c":0.177},{"p":"R","k":"e","s":"Case 5 (SP7)","t":1358,"c":0.174},{"p":"R","k":"e","s":"Case 5 (SP7)","t":1396,"c":0.176},{"p":"R","k":"e","s":"Case 5 (SP7)","t":1434,"c":0.174},{"p":"R","k":"e","s":"Case 5 (SP7)","t":1473,"c":0.176},{"p":"R","k":"e","s":"Case 5 (SP7)","t":1511,"c":0.174},{"p":"R","k":"e","s":"Case 5 (SP7)","t":1550,"c":0.178},{"p":"R","k":"e","s":"Case 5 (SP7)","t":1588,"c":0.181},{"p":"R","k":"e","s":"Case 5 (SP7)","t":1626,"c":0.181},{"p":"R","k":"e","s":"Case 5 (SP7)","t":1665,"c":0.184},{"p":"R","k":"e","s":"Case 5 (SP7)","t":1703,"c":0.186},{"p":"R","k":"e","s":"Case 5 (SP7)","t":1742,"c":0.188},{"p":"R","k":"e","s":"Case 5 (SP7)","t":1780,"c":0.188},{"p":"R","k":"e","s":"Case 5 (SP7)","t":1818,"c":0.188},{"p":"R","k":"e","s":"Case 5 (SP7)","t":1857,"c":0.189},{"p":"R","k":"e","s":"Case 5 (SP7)","t":1895,"c":0.191},{"p":"R","k":"e","s":"Case 5 (SP7)","t":1934,"c":0.189},{"p":"R","k":"e","s":"Case 5 (SP7)","t":1972,"c":0.188},{"p":"R","k":"e","s":"Case 5 (SP7)","t":2011,"c":0.187},{"p":"R","k":"e","s":"Case 5 (SP7)","t":2049,"c":0.187},{"p":"R","k":"e","s":"Case 5 (SP7)","t":2088,"c":0.188},{"p":"R","k":"e","s":"Case 5 (SP7)","t":2126,"c":0.188},{"p":"R","k":"e","s":"Case 5 (SP7)","t":2164,"c":0.188},{"p":"R","k":"e","s":"Case 5 (SP7)","t":2203,"c":0.188},{"p":"R","k":"e","s":"Case 5 (SP7)","t":2241,"c":0.187},{"p":"R","k":"e","s":"Case 5 (SP7)","t":2280,"c":0.188},{"p":"R","k":"e","s":"Case 5 (SP7)","t":2318,"c":0.19},{"p":"R","k":"e","s":"Case 5 (SP7)","t":2357,"c":0.193},{"p":"R","k":"e","s":"Case 5 (SP7)","t":2395,"c":0.195},{"p":"R","k":"e","s":"Case 5 (SP7)","t":2434,"c":0.194},{"p":"R","k":"e","s":"Case 5 (SP7)","t":2472,"c":0.19},{"p":"R","k":"e","s":"Case 5 (SP7)","t":2494,"c":0.188},
{"p":"R","k":"s","s":"Case 2 (SP3)","t":15,"c":0.34},{"p":"R","k":"s","s":"Case 2 (SP3)","t":41,"c":0.351},{"p":"R","k":"s","s":"Case 2 (SP3)","t":70,"c":0.37},{"p":"R","k":"s","s":"Case 2 (SP3)","t":93,"c":0.386},{"p":"R","k":"s","s":"Case 2 (SP3)","t":110,"c":0.379},{"p":"R","k":"s","s":"Case 2 (SP3)","t":150,"c":0.44},{"p":"R","k":"s","s":"Case 2 (SP3)","t":200,"c":0.51},{"p":"R","k":"s","s":"Case 2 (SP3)","t":250,"c":0.565},{"p":"R","k":"s","s":"Case 2 (SP3)","t":283,"c":0.6},{"p":"R","k":"s","s":"Case 2 (SP3)","t":320,"c":0.66},{"p":"R","k":"s","s":"Case 2 (SP3)","t":349,"c":0.7},{"p":"R","k":"s","s":"Case 2 (SP3)","t":397,"c":0.755},{"p":"R","k":"s","s":"Case 2 (SP3)","t":445,"c":0.785},{"p":"R","k":"s","s":"Case 2 (SP3)","t":493,"c":0.814},{"p":"R","k":"s","s":"Case 2 (SP3)","t":540,"c":0.84},{"p":"R","k":"s","s":"Case 2 (SP3)","t":590,"c":0.87},{"p":"R","k":"s","s":"Case 2 (SP3)","t":640,"c":0.9},{"p":"R","k":"s","s":"Case 2 (SP3)","t":686,"c":0.925},{"p":"R","k":"s","s":"Case 2 (SP3)","t":735,"c":0.947},{"p":"R","k":"s","s":"Case 2 (SP3)","t":781,"c":0.967},{"p":"R","k":"s","s":"Case 2 (SP3)","t":830,"c":0.982},{"p":"R","k":"s","s":"Case 2 (SP3)","t":877,"c":0.995},{"p":"R","k":"s","s":"Case 2 (SP3)","t":925,"c":1.01},{"p":"R","k":"s","s":"Case 2 (SP3)","t":973,"c":1.023},{"p":"R","k":"s","s":"Case 2 (SP3)","t":1069,"c":1.05},{"p":"R","k":"s","s":"Case 2 (SP3)","t":1165,"c":1.078},{"p":"R","k":"s","s":"Case 2 (SP3)","t":1261,"c":1.106},{"p":"R","k":"s","s":"Case 2 (SP3)","t":1358,"c":1.134},{"p":"R","k":"s","s":"Case 2 (SP3)","t":1454,"c":1.162},{"p":"R","k":"s","s":"Case 2 (SP3)","t":1550,"c":1.183},{"p":"R","k":"s","s":"Case 2 (SP3)","t":1646,"c":1.197},{"p":"R","k":"s","s":"Case 2 (SP3)","t":1742,"c":1.206},{"p":"R","k":"s","s":"Case 2 (SP3)","t":1838,"c":1.213},{"p":"R","k":"s","s":"Case 2 (SP3)","t":1934,"c":1.208},{"p":"R","k":"s","s":"Case 2 (SP3)","t":2030,"c":1.217},{"p":"R","k":"s","s":"Case 2 (SP3)","t":2126,"c":1.22},{"p":"R","k":"s","s":"Case 2 (SP3)","t":2222,"c":1.223},{"p":"R","k":"s","s":"Case 2 (SP3)","t":2318,"c":1.227},{"p":"R","k":"s","s":"Case 2 (SP3)","t":2414,"c":1.229},{"p":"R","k":"s","s":"Case 2 (SP3)","t":2500,"c":1.222},
{"p":"R","k":"s","s":"Case 5 (SP3)","t":7,"c":0},{"p":"R","k":"s","s":"Case 5 (SP3)","t":16,"c":0.19},{"p":"R","k":"s","s":"Case 5 (SP3)","t":21,"c":0.317},{"p":"R","k":"s","s":"Case 5 (SP3)","t":33,"c":0.414},{"p":"R","k":"s","s":"Case 5 (SP3)","t":45,"c":0.38},{"p":"R","k":"s","s":"Case 5 (SP3)","t":50,"c":0.428},{"p":"R","k":"s","s":"Case 5 (SP3)","t":58,"c":0.414},{"p":"R","k":"s","s":"Case 5 (SP3)","t":71,"c":0.567},{"p":"R","k":"s","s":"Case 5 (SP3)","t":79,"c":0.525},{"p":"R","k":"s","s":"Case 5 (SP3)","t":93,"c":0.449},{"p":"R","k":"s","s":"Case 5 (SP3)","t":110,"c":0.483},{"p":"R","k":"s","s":"Case 5 (SP3)","t":124,"c":0.414},{"p":"R","k":"s","s":"Case 5 (SP3)","t":145,"c":0.525},{"p":"R","k":"s","s":"Case 5 (SP3)","t":162,"c":0.567},{"p":"R","k":"s","s":"Case 5 (SP3)","t":188,"c":0.588},{"p":"R","k":"s","s":"Case 5 (SP3)","t":205,"c":0.553},{"p":"R","k":"s","s":"Case 5 (SP3)","t":223,"c":0.504},{"p":"R","k":"s","s":"Case 5 (SP3)","t":243,"c":0.525},{"p":"R","k":"s","s":"Case 5 (SP3)","t":257,"c":0.58},{"p":"R","k":"s","s":"Case 5 (SP3)","t":275,"c":0.7},{"p":"R","k":"s","s":"Case 5 (SP3)","t":292,"c":0.765},{"p":"R","k":"s","s":"Case 5 (SP3)","t":311,"c":0.744},{"p":"R","k":"s","s":"Case 5 (SP3)","t":330,"c":0.765},{"p":"R","k":"s","s":"Case 5 (SP3)","t":349,"c":0.689},{"p":"R","k":"s","s":"Case 5 (SP3)","t":369,"c":0.605},{"p":"R","k":"s","s":"Case 5 (SP3)","t":388,"c":0.577},{"p":"R","k":"s","s":"Case 5 (SP3)","t":407,"c":0.605},{"p":"R","k":"s","s":"Case 5 (SP3)","t":436,"c":0.605},{"p":"R","k":"s","s":"Case 5 (SP3)","t":474,"c":0.612},{"p":"R","k":"s","s":"Case 5 (SP3)","t":513,"c":0.598},{"p":"R","k":"s","s":"Case 5 (SP3)","t":541,"c":0.584},{"p":"R","k":"s","s":"Case 5 (SP3)","t":590,"c":0.605},{"p":"R","k":"s","s":"Case 5 (SP3)","t":647,"c":0.619},{"p":"R","k":"s","s":"Case 5 (SP3)","t":705,"c":0.622},{"p":"R","k":"s","s":"Case 5 (SP3)","t":734,"c":0.612},{"p":"R","k":"s","s":"Case 5 (SP3)","t":781,"c":0.64},{"p":"R","k":"s","s":"Case 5 (SP3)","t":877,"c":0.654},{"p":"R","k":"s","s":"Case 5 (SP3)","t":973,"c":0.661},{"p":"R","k":"s","s":"Case 5 (SP3)","t":1069,"c":0.675},{"p":"R","k":"s","s":"Case 5 (SP3)","t":1165,"c":0.692},{"p":"R","k":"s","s":"Case 5 (SP3)","t":1261,"c":0.696},{"p":"R","k":"s","s":"Case 5 (SP3)","t":1358,"c":0.689},{"p":"R","k":"s","s":"Case 5 (SP3)","t":1454,"c":0.692},{"p":"R","k":"s","s":"Case 5 (SP3)","t":1550,"c":0.685},{"p":"R","k":"s","s":"Case 5 (SP3)","t":1646,"c":0.692},{"p":"R","k":"s","s":"Case 5 (SP3)","t":1742,"c":0.696},{"p":"R","k":"s","s":"Case 5 (SP3)","t":1838,"c":0.697},{"p":"R","k":"s","s":"Case 5 (SP3)","t":1934,"c":0.703},{"p":"R","k":"s","s":"Case 5 (SP3)","t":2030,"c":0.702},{"p":"R","k":"s","s":"Case 5 (SP3)","t":2126,"c":0.696},{"p":"R","k":"s","s":"Case 5 (SP3)","t":2222,"c":0.692},{"p":"R","k":"s","s":"Case 5 (SP3)","t":2318,"c":0.689},{"p":"R","k":"s","s":"Case 5 (SP3)","t":2414,"c":0.691},{"p":"R","k":"s","s":"Case 5 (SP3)","t":2500,"c":0.696},
{"p":"R","k":"s","s":"Case 2 (SP7)","t":150,"c":0},{"p":"R","k":"s","s":"Case 2 (SP7)","t":205,"c":0.035},{"p":"R","k":"s","s":"Case 2 (SP7)","t":250,"c":0.045},{"p":"R","k":"s","s":"Case 2 (SP7)","t":301,"c":0.063},{"p":"R","k":"s","s":"Case 2 (SP7)","t":350,"c":0.07},{"p":"R","k":"s","s":"Case 2 (SP7)","t":397,"c":0.077},{"p":"R","k":"s","s":"Case 2 (SP7)","t":450,"c":0.087},{"p":"R","k":"s","s":"Case 2 (SP7)","t":494,"c":0.097},{"p":"R","k":"s","s":"Case 2 (SP7)","t":540,"c":0.107},{"p":"R","k":"s","s":"Case 2 (SP7)","t":590,"c":0.118},{"p":"R","k":"s","s":"Case 2 (SP7)","t":640,"c":0.129},{"p":"R","k":"s","s":"Case 2 (SP7)","t":686,"c":0.139},{"p":"R","k":"s","s":"Case 2 (SP7)","t":735,"c":0.148},{"p":"R","k":"s","s":"Case 2 (SP7)","t":782,"c":0.157},{"p":"R","k":"s","s":"Case 2 (SP7)","t":830,"c":0.166},{"p":"R","k":"s","s":"Case 2 (SP7)","t":878,"c":0.174},{"p":"R","k":"s","s":"Case 2 (SP7)","t":926,"c":0.181},{"p":"R","k":"s","s":"Case 2 (SP7)","t":974,"c":0.188},{"p":"R","k":"s","s":"Case 2 (SP7)","t":1020,"c":0.194},{"p":"R","k":"s","s":"Case 2 (SP7)","t":1070,"c":0.199},{"p":"R","k":"s","s":"Case 2 (SP7)","t":1120,"c":0.202},{"p":"R","k":"s","s":"Case 2 (SP7)","t":1166,"c":0.205},{"p":"R","k":"s","s":"Case 2 (SP7)","t":1214,"c":0.207},{"p":"R","k":"s","s":"Case 2 (SP7)","t":1262,"c":0.209},{"p":"R","k":"s","s":"Case 2 (SP7)","t":1310,"c":0.21},{"p":"R","k":"s","s":"Case 2 (SP7)","t":1358,"c":0.21},{"p":"R","k":"s","s":"Case 2 (SP7)","t":1406,"c":0.211},{"p":"R","k":"s","s":"Case 2 (SP7)","t":1454,"c":0.212},{"p":"R","k":"s","s":"Case 2 (SP7)","t":1480,"c":0.205},{"p":"R","k":"s","s":"Case 2 (SP7)","t":1500,"c":0.215},{"p":"R","k":"s","s":"Case 2 (SP7)","t":1525,"c":0.205},{"p":"R","k":"s","s":"Case 2 (SP7)","t":1550,"c":0.214},{"p":"R","k":"s","s":"Case 2 (SP7)","t":1575,"c":0.206},{"p":"R","k":"s","s":"Case 2 (SP7)","t":1600,"c":0.216},{"p":"R","k":"s","s":"Case 2 (SP7)","t":1625,"c":0.205},{"p":"R","k":"s","s":"Case 2 (SP7)","t":1650,"c":0.217},{"p":"R","k":"s","s":"Case 2 (SP7)","t":1675,"c":0.206},{"p":"R","k":"s","s":"Case 2 (SP7)","t":1700,"c":0.218},{"p":"R","k":"s","s":"Case 2 (SP7)","t":1725,"c":0.207},{"p":"R","k":"s","s":"Case 2 (SP7)","t":1750,"c":0.219},{"p":"R","k":"s","s":"Case 2 (SP7)","t":1775,"c":0.206},{"p":"R","k":"s","s":"Case 2 (SP7)","t":1800,"c":0.218},{"p":"R","k":"s","s":"Case 2 (SP7)","t":1825,"c":0.207},{"p":"R","k":"s","s":"Case 2 (SP7)","t":1850,"c":0.22},{"p":"R","k":"s","s":"Case 2 (SP7)","t":1875,"c":0.208},{"p":"R","k":"s","s":"Case 2 (SP7)","t":1900,"c":0.219},{"p":"R","k":"s","s":"Case 2 (SP7)","t":1925,"c":0.207},{"p":"R","k":"s","s":"Case 2 (SP7)","t":1950,"c":0.221},{"p":"R","k":"s","s":"Case 2 (SP7)","t":1975,"c":0.208},{"p":"R","k":"s","s":"Case 2 (SP7)","t":2000,"c":0.22},{"p":"R","k":"s","s":"Case 2 (SP7)","t":2025,"c":0.209},{"p":"R","k":"s","s":"Case 2 (SP7)","t":2050,"c":0.222},{"p":"R","k":"s","s":"Case 2 (SP7)","t":2075,"c":0.208},{"p":"R","k":"s","s":"Case 2 (SP7)","t":2100,"c":0.221},{"p":"R","k":"s","s":"Case 2 (SP7)","t":2125,"c":0.209},{"p":"R","k":"s","s":"Case 2 (SP7)","t":2150,"c":0.223},{"p":"R","k":"s","s":"Case 2 (SP7)","t":2175,"c":0.21},{"p":"R","k":"s","s":"Case 2 (SP7)","t":2200,"c":0.222},{"p":"R","k":"s","s":"Case 2 (SP7)","t":2225,"c":0.21},{"p":"R","k":"s","s":"Case 2 (SP7)","t":2250,"c":0.224},{"p":"R","k":"s","s":"Case 2 (SP7)","t":2275,"c":0.211},{"p":"R","k":"s","s":"Case 2 (SP7)","t":2300,"c":0.225},{"p":"R","k":"s","s":"Case 2 (SP7)","t":2325,"c":0.212},{"p":"R","k":"s","s":"Case 2 (SP7)","t":2350,"c":0.226},{"p":"R","k":"s","s":"Case 2 (SP7)","t":2375,"c":0.213},{"p":"R","k":"s","s":"Case 2 (SP7)","t":2400,"c":0.228},{"p":"R","k":"s","s":"Case 2 (SP7)","t":2425,"c":0.214},{"p":"R","k":"s","s":"Case 2 (SP7)","t":2450,"c":0.23},{"p":"R","k":"s","s":"Case 2 (SP7)","t":2475,"c":0.216},{"p":"R","k":"s","s":"Case 2 (SP7)","t":2500,"c":0.225},
{"p":"R","k":"s","s":"Case 5 (SP7)","t":150,"c":0},{"p":"R","k":"s","s":"Case 5 (SP7)","t":205,"c":0.035},{"p":"R","k":"s","s":"Case 5 (SP7)","t":250,"c":0.05},{"p":"R","k":"s","s":"Case 5 (SP7)","t":301,"c":0.065},{"p":"R","k":"s","s":"Case 5 (SP7)","t":350,"c":0.074},{"p":"R","k":"s","s":"Case 5 (SP7)","t":397,"c":0.083},{"p":"R","k":"s","s":"Case 5 (SP7)","t":450,"c":0.094},{"p":"R","k":"s","s":"Case 5 (SP7)","t":494,"c":0.104},{"p":"R","k":"s","s":"Case 5 (SP7)","t":540,"c":0.114},{"p":"R","k":"s","s":"Case 5 (SP7)","t":590,"c":0.125},{"p":"R","k":"s","s":"Case 5 (SP7)","t":640,"c":0.136},{"p":"R","k":"s","s":"Case 5 (SP7)","t":686,"c":0.146},{"p":"R","k":"s","s":"Case 5 (SP7)","t":735,"c":0.155},{"p":"R","k":"s","s":"Case 5 (SP7)","t":782,"c":0.163},{"p":"R","k":"s","s":"Case 5 (SP7)","t":830,"c":0.169},{"p":"R","k":"s","s":"Case 5 (SP7)","t":878,"c":0.174},{"p":"R","k":"s","s":"Case 5 (SP7)","t":926,"c":0.18},{"p":"R","k":"s","s":"Case 5 (SP7)","t":974,"c":0.185},{"p":"R","k":"s","s":"Case 5 (SP7)","t":1020,"c":0.19},{"p":"R","k":"s","s":"Case 5 (SP7)","t":1070,"c":0.195},{"p":"R","k":"s","s":"Case 5 (SP7)","t":1120,"c":0.199},{"p":"R","k":"s","s":"Case 5 (SP7)","t":1166,"c":0.202},{"p":"R","k":"s","s":"Case 5 (SP7)","t":1214,"c":0.204},{"p":"R","k":"s","s":"Case 5 (SP7)","t":1262,"c":0.205},{"p":"R","k":"s","s":"Case 5 (SP7)","t":1358,"c":0.205},{"p":"R","k":"s","s":"Case 5 (SP7)","t":1454,"c":0.202},{"p":"R","k":"s","s":"Case 5 (SP7)","t":1550,"c":0.195},{"p":"R","k":"s","s":"Case 5 (SP7)","t":1646,"c":0.193},{"p":"R","k":"s","s":"Case 5 (SP7)","t":1742,"c":0.191},{"p":"R","k":"s","s":"Case 5 (SP7)","t":1838,"c":0.19},{"p":"R","k":"s","s":"Case 5 (SP7)","t":1934,"c":0.188},{"p":"R","k":"s","s":"Case 5 (SP7)","t":2030,"c":0.185},{"p":"R","k":"s","s":"Case 5 (SP7)","t":2126,"c":0.181},{"p":"R","k":"s","s":"Case 5 (SP7)","t":2222,"c":0.179},{"p":"R","k":"s","s":"Case 5 (SP7)","t":2318,"c":0.177},{"p":"R","k":"s","s":"Case 5 (SP7)","t":2414,"c":0.176},{"p":"R","k":"s","s":"Case 5 (SP7)","t":2500,"c":0.174}
]},
"spacing": 96,
"bounds": "flush",
"resolve": {"scale": {"color": "independent", "stroke": "independent", "shape": "independent"}},
"hconcat": [
{
 "width": 484, "height": 360,
 "resolve": {"axis": {"x": "independent", "y": "independent"}},
 "layer": [
  {"transform": [{"filter": "datum.p === 'L' && datum.k === 'e'"}],
   "mark": {"type": "point", "filled": false, "size": 58, "strokeWidth": 1, "clip": true},
   "encoding": {
    "x": {"field": "t", "type": "quantitative", "scale": {"domain": [0, 2500], "nice": false},
      "axis": {"title": "Time (s)", "orient": "bottom", "values": [0,500,1000,1500,2000,2500], "format": "d", "tickSize": 6}},
    "y": {"field": "c", "type": "quantitative", "scale": {"domain": [0, 1.5], "nice": false},
      "axis": {"title": "Helium concentration (vol%)", "orient": "left", "values": [0,0.5,1,1.5], "format": ".1f", "tickSize": 6}},
    "stroke": {"field": "s", "type": "nominal", "legend": null,
      "scale": {"domain": ["Case 5 (SP9)", "Case 2 (SP9)", "Case 5 (SP17)", "Case 2 (SP17)"], "range": ["#d46a6a", "#6b6b6b", "#5aae8c", "#4a82bd"]}},
    "shape": {"field": "s", "type": "nominal", "legend": null,
      "scale": {"domain": ["Case 5 (SP9)", "Case 2 (SP9)", "Case 5 (SP17)", "Case 2 (SP17)"], "range": ["circle", "square", "triangle-down", "triangle-up"]}}
   }},
  {"transform": [{"filter": "datum.p === 'L' && datum.k === 's'"}],
   "mark": {"type": "line", "strokeWidth": 1.5, "clip": true},
   "encoding": {
    "x": {"field": "t", "type": "quantitative",
      "axis": {"title": null, "orient": "bottom", "values": [100,200,300,400,600,700,800,900,1100,1200,1300,1400,1600,1700,1800,1900,2100,2200,2300,2400], "labels": false, "domain": false, "tickSize": 3}},
    "y": {"field": "c", "type": "quantitative",
      "axis": {"title": null, "orient": "left", "values": [0.1,0.2,0.3,0.4,0.6,0.7,0.8,0.9,1.1,1.2,1.3,1.4], "labels": false, "domain": false, "tickSize": 3}},
    "color": {"field": "s", "type": "nominal",
      "scale": {"domain": ["Case 2 (SP9)", "Case 5 (SP9)", "Case 2 (SP17)", "Case 5 (SP17)"], "range": ["#333333", "#d93a35", "#1f64c2", "#35a05c"]},
      "legend": {"title": null, "orient": "none", "legendX": 322, "legendY": 262, "padding": 0, "rowPadding": 4, "labelOffset": 5,
        "symbolSize": 100, "symbolStrokeWidth": 1.4, "labelFont": "Liberation Sans", "labelFontSize": 16, "labelColor": "#1a1a1a",
        "encode": {"symbols": {"update": {"fill": {"value": "transparent"},
          "shape": {"signal": "indexof(datum.value,'Case 2')>=0 ? ((indexof(datum.value,'SP17')>=0 || indexof(datum.value,'SP7')>=0) ? 'M-8.2,-0.9L-7.2,0.8L-9.2,0.8Z M-4.8,0H2.2' : 'M-9,-0.8H-7.4V0.8H-9Z M-4.8,0H2.2') : ((indexof(datum.value,'SP17')>=0 || indexof(datum.value,'SP7')>=0) ? 'M-8.2,0.9L-7.2,-0.8L-9.2,-0.8Z M-4.8,0H2.2' : 'M-9.1,0A0.9,0.9 0 1,0 -7.3,0A0.9,0.9 0 1,0 -9.1,0Z M-4.8,0H2.2')"}}}}}}
   }},
  {"data": {"values": [{"label": "Symbols: experiment, Lines: GOTHIC"}]},
   "mark": {"type": "text", "align": "left", "baseline": "middle"},
   "encoding": {"x": {"datum": 46, "axis": null}, "y": {"datum": 1.4275, "axis": null}, "text": {"field": "label"}}}
 ]
},
{
 "width": 484, "height": 360,
 "resolve": {"axis": {"x": "independent", "y": "independent"}},
 "layer": [
  {"transform": [{"filter": "datum.p === 'R' && datum.k === 'e'"}],
   "mark": {"type": "point", "filled": false, "size": 58, "strokeWidth": 1, "clip": true},
   "encoding": {
    "x": {"field": "t", "type": "quantitative", "scale": {"domain": [0, 2500], "nice": false},
      "axis": {"title": "Time (s)", "orient": "bottom", "values": [0,500,1000,1500,2000,2500], "format": "d", "tickSize": 6}},
    "y": {"field": "c", "type": "quantitative", "scale": {"domain": [0, 1.5], "nice": false},
      "axis": {"title": "Helium concentration (vol%)", "orient": "left", "values": [0,0.5,1,1.5], "format": ".1f", "tickSize": 6}},
    "stroke": {"field": "s", "type": "nominal", "legend": null,
      "scale": {"domain": ["Case 5 (SP3)", "Case 2 (SP3)", "Case 5 (SP7)", "Case 2 (SP7)"], "range": ["#d46a6a", "#6b6b6b", "#5aae8c", "#4a82bd"]}},
    "shape": {"field": "s", "type": "nominal", "legend": null,
      "scale": {"domain": ["Case 5 (SP3)", "Case 2 (SP3)", "Case 5 (SP7)", "Case 2 (SP7)"], "range": ["circle", "square", "triangle-down", "triangle-up"]}}
   }},
  {"transform": [{"filter": "datum.p === 'R' && datum.k === 's'"}],
   "mark": {"type": "line", "strokeWidth": 1.5, "clip": true},
   "encoding": {
    "x": {"field": "t", "type": "quantitative",
      "axis": {"title": null, "orient": "bottom", "values": [100,200,300,400,600,700,800,900,1100,1200,1300,1400,1600,1700,1800,1900,2100,2200,2300,2400], "labels": false, "domain": false, "tickSize": 3}},
    "y": {"field": "c", "type": "quantitative",
      "axis": {"title": null, "orient": "left", "values": [0.1,0.2,0.3,0.4,0.6,0.7,0.8,0.9,1.1,1.2,1.3,1.4], "labels": false, "domain": false, "tickSize": 3}},
    "color": {"field": "s", "type": "nominal",
      "scale": {"domain": ["Case 2 (SP3)", "Case 5 (SP3)", "Case 2 (SP7)", "Case 5 (SP7)"], "range": ["#333333", "#d93a35", "#1f64c2", "#35a05c"]},
      "legend": {"title": null, "orient": "none", "legendX": 61, "legendY": 28, "padding": 0, "rowPadding": 4, "labelOffset": 5,
        "symbolSize": 100, "symbolStrokeWidth": 1.4, "labelFont": "Liberation Sans", "labelFontSize": 16, "labelColor": "#1a1a1a",
        "encode": {"symbols": {"update": {"fill": {"value": "transparent"},
          "shape": {"signal": "indexof(datum.value,'Case 2')>=0 ? ((indexof(datum.value,'SP17')>=0 || indexof(datum.value,'SP7')>=0) ? 'M-8.2,-0.9L-7.2,0.8L-9.2,0.8Z M-4.8,0H2.2' : 'M-9,-0.8H-7.4V0.8H-9Z M-4.8,0H2.2') : ((indexof(datum.value,'SP17')>=0 || indexof(datum.value,'SP7')>=0) ? 'M-8.2,0.9L-7.2,-0.8L-9.2,-0.8Z M-4.8,0H2.2' : 'M-9.1,0A0.9,0.9 0 1,0 -7.3,0A0.9,0.9 0 1,0 -9.1,0Z M-4.8,0H2.2')"}}}}}}
   }},
  {"data": {"values": [{"label": "Symbols: experiment, Lines: GOTHIC"}]},
   "mark": {"type": "text", "align": "left", "baseline": "middle"},
   "encoding": {"x": {"datum": 26, "axis": null}, "y": {"datum": 1.442, "axis": null}, "text": {"field": "label"}}},
  {"data": {"values": [{"label": "SP3 (TV1)"}]},
   "mark": {"type": "text", "align": "left", "baseline": "middle"},
   "encoding": {"x": {"datum": 1988, "axis": null}, "y": {"datum": 1.281, "axis": null}, "text": {"field": "label"}}},
  {"data": {"values": [{"label": "SP7 (BV1)"}]},
   "mark": {"type": "text", "align": "left", "baseline": "middle"},
   "encoding": {"x": {"datum": 1933, "axis": null}, "y": {"datum": 0.367, "axis": null}, "text": {"field": "label"}}}
 ]
}
]
}
